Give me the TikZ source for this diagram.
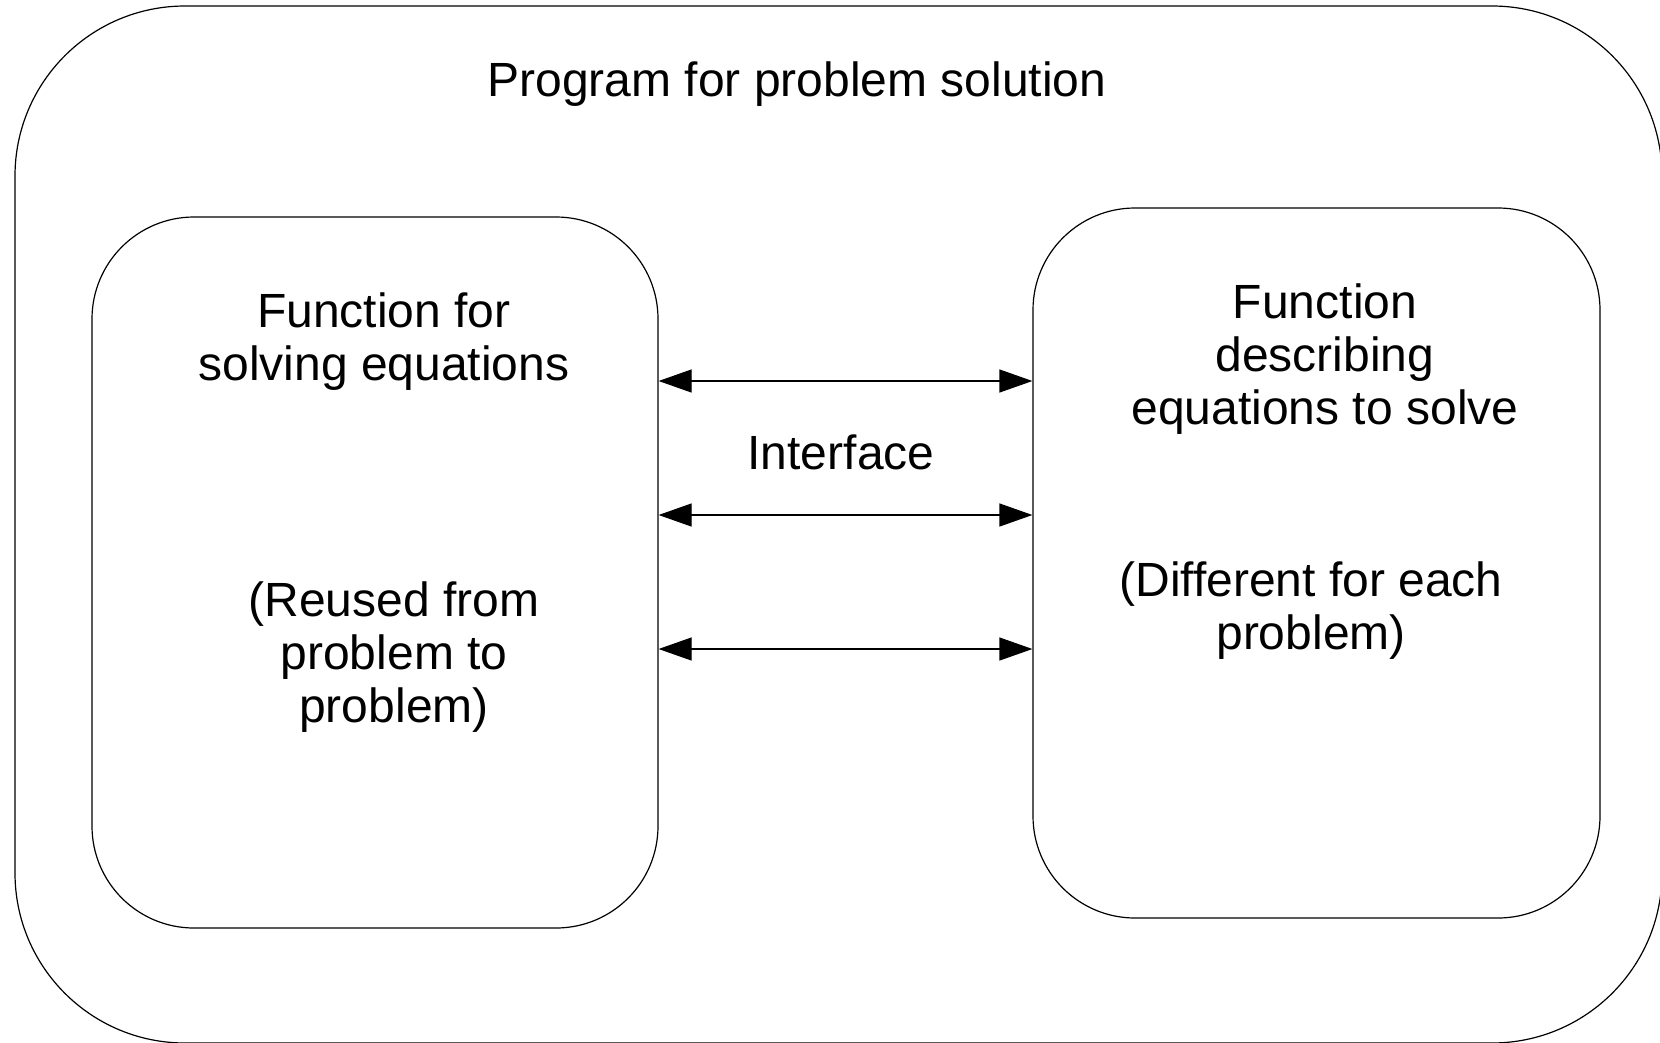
\documentclass[tikz,border=0pt]{standalone}
\usepackage{fontspec}
\setmainfont{Liberation Sans}
\usetikzlibrary{arrows.meta,positioning}

\begin{document}
\begin{tikzpicture}[
  x=1pt, y=-1pt, >={Triangle[length=33pt,width=23pt]},
  font=\fontsize{48}{53}\selectfont, line width=1.2pt,
  box/.style={draw, rounded corners=102pt, inner sep=0pt},
  txt/.style={align=center, inner sep=0pt},
]
  \useasboundingbox (0,0) rectangle (1660,1042);

  % frames
  \node[box, rounded corners=170pt, minimum width=1647pt, minimum height=1037pt] (prog) at (838.5,524.5) {};
  \node[box, minimum width=566pt, minimum height=711pt] (solver) at (375,572.5) {};
  \node[box, minimum width=567pt, minimum height=710pt] (eqns) at (1316.5,563) {};

  % labels
  \node[txt] (title) at (797,84) {Program for problem solution};
  \node[txt] (solvername) at (384,342) {Function for\\solving equations};
  \node[txt] (solvernote) at (394,657) {(Reused from\\problem to\\problem)};
  \node[txt] (iface) at (841,452) {Interface};
  \node[txt] (eqnsname) at (1325,359) {Function\\describing\\equations to solve};
  \node[txt] (eqnsnote) at (1311,611) {(Different for each\\problem)};

  % interface arrows
  \foreach \y in {381,515,649}
    \draw[<->] (solver.east |- 0,\y) -- (eqns.west |- 0,\y);
\end{tikzpicture}
\end{document}
